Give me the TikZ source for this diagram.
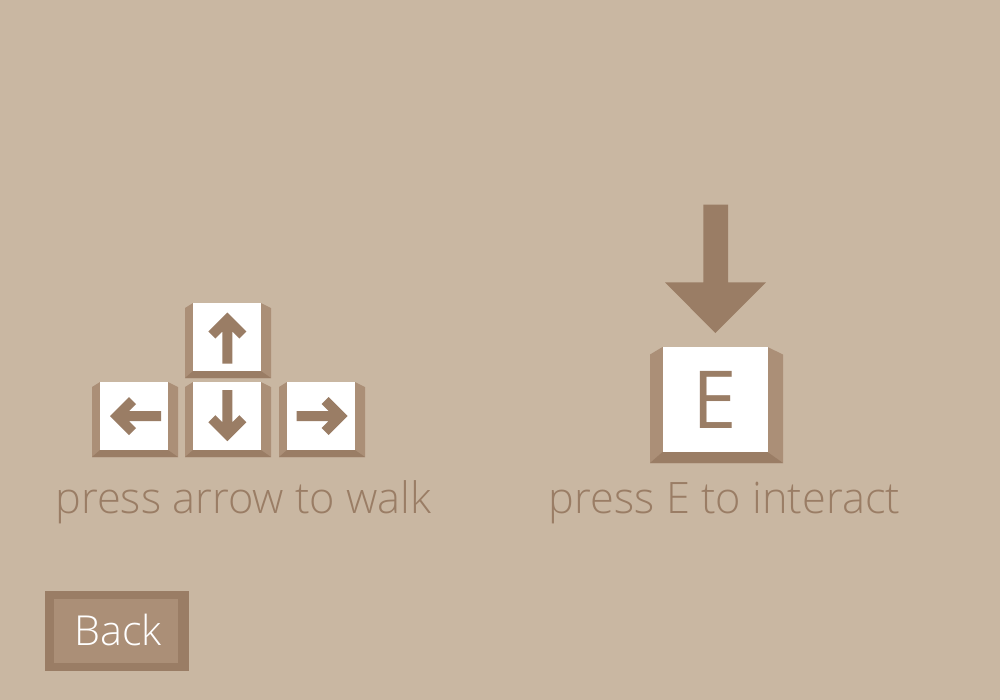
\documentclass[tikz,border=0pt]{standalone}
\usepackage{fontspec}
\setmainfont{Open Sans Light}
\newfontfamily\keyfont{Open Sans}
\definecolor{bgc}{HTML}{C9B7A2}
\definecolor{darkc}{HTML}{9A7D65}
\definecolor{sidec}{HTML}{AB8F77}
\newcommand{\keycap}[8]{% outer l,r; white l,r; top, white bottom, outer bottom, side top
  \fill[sidec] (#1,#8) -- (#3,#5) -- (#4,#5) -- (#2,#8) -- (#2,#7) -- (#1,#7) -- cycle;
  \fill[darkc] (#1,#7) -- (#3,#6) -- (#4,#6) -- (#2,#7) -- cycle;
  \fill[white] (#3,#5) rectangle (#4,#6);
}
\newcommand{\keyarrow}[3]{%
  \fill[darkc,shift={(#1,#2)},rotate=#3]
    (0,-25.5) -- (19,-6.5) -- (12,0.5) -- (5,-6.5) -- (5,25.5) -- (-5,25.5) -- (-5,-6.5) -- (-12,0.5) -- (-19,-6.5) -- cycle;
}
\begin{document}
\begin{tikzpicture}[x=0.75pt,y=-0.75pt,
  caption/.style={text=darkc,font=\fontsize{32.5pt}{38pt}\selectfont,anchor=base,inner sep=0pt}]
\useasboundingbox (0,0) rectangle (1000,700);
\fill[bgc] (0,0) rectangle (1000,700);
\keycap{185}{271}{193}{261}{303}{371}{378}{308}
\keycap{92}{178}{100}{168}{382}{450}{457}{387}
\keycap{185}{271}{193}{261}{382}{450}{457}{387}
\keycap{279}{365}{287}{355}{382}{450}{457}{387}
\keyarrow{227.3}{338}{0}
\keyarrow{135.5}{416}{90}
\keyarrow{227.3}{415.7}{180}
\keyarrow{322.2}{416}{-90}
\node[caption] (walk) at (243.5,513) {press arrow to walk};
\keycap{650}{783}{662.5}{767.5}{347}{452}{463}{354.5}
\fill[darkc] (703.3,204.7) -- (728,204.7) -- (728,282.3) -- (766,282.3) -- (715.3,333) -- (665,282.3) -- (703.3,282.3) -- cycle;
\node[text=darkc,font=\keyfont\fontsize{60pt}{70pt}\selectfont,anchor=base,inner sep=0pt] (ekey) at (714.5,428) {E};
\node[caption] (interact) at (724.5,513) {press E to interact};
\fill[darkc] (45,591) rectangle (189,671);
\fill[sidec] (54,599) rectangle (178,663);
\node[text=white,font=\fontsize{31pt}{38pt}\selectfont,anchor=base,inner sep=0pt] (back) at (118,645) {Back};
\end{tikzpicture}
\end{document}
